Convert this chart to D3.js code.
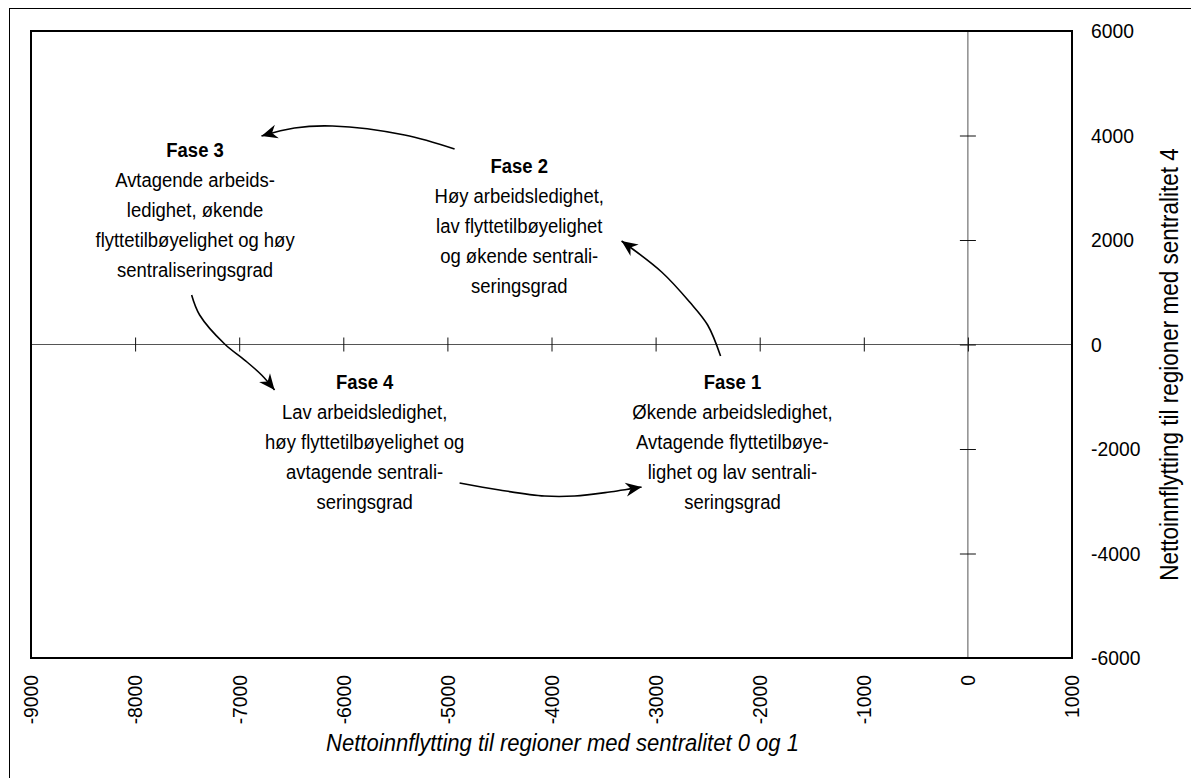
<!DOCTYPE html>
<html>
<head>
<meta charset="utf-8">
<script src="https://cdn.jsdelivr.net/npm/d3@7/dist/d3.min.js"></script>
<style>
  html, body { margin: 0; padding: 0; background: #fff; }
  svg { display: block; }
  text { font-family: "Liberation Sans", Arial, sans-serif; fill: #000; }
</style>
</head>
<body>
<svg id="chart" width="1191" height="778"></svg>
<script>
// ---- Data ----
const xTicks = [-9000, -8000, -7000, -6000, -5000, -4000, -3000, -2000, -1000, 0, 1000];
const yTicks = [-6000, -4000, -2000, 0, 2000, 4000, 6000];
const xDomain = [-9000, 1000];
const yDomain = [-6000, 6000];
const xTitle = "Nettoinnflytting til regioner med sentralitet 0 og 1";
const yTitle = "Nettoinnflytting til regioner med sentralitet 4";

// phase labels: centre x, title baseline y (data units)
const phaseNames = ["Fase 1", "Fase 2", "Fase 3", "Fase 4"];
const phaseX = [-2262, -4310, -7424, -5795];
const phaseY = [-852, 3288, 3589, -852];
const phaseLines = [
  ["Økende arbeidsledighet,", "Avtagende flyttetilbøye-", "lighet og lav sentrali-", "seringsgrad"],
  ["Høy arbeidsledighet,", "lav flyttetilbøyelighet", "og økende sentrali-", "seringsgrad"],
  ["Avtagende arbeids-", "ledighet, økende", "flyttetilbøyelighet og høy", "sentraliseringsgrad"],
  ["Lav arbeidsledighet,", "høy flyttetilbøyelighet og", "avtagende sentrali-", "seringsgrad"]
];

// arrows (data units)
const arrow1X = [-2376, -2500, -2673, -2942, -3327];
const arrow1Y = [-220, 373, 813, 1388, 1981];
const arrow2X = [-4931, -5411, -6104, -6469, -6786];
const arrow2Y = [3742, 4010, 4182, 4144, 3990];
const arrow3X = [-7457, -7380, -7140, -6948, -6785, -6660];
const arrow3Y = [947, 565, 10, -297, -584, -871];
const arrow4X = [-4883, -4499, -4066, -3778, -3442, -3134];
const arrow4Y = [-2651, -2785, -2900, -2900, -2823, -2727];

// ---- Layout ----
const svg = d3.select("#chart");
const L = 31, R = 1072, T = 31, B = 658;
const x = d3.scaleLinear().domain(xDomain).range([L, R]);
const y = d3.scaleLinear().domain(yDomain).range([B, T]);
const SQ = 0.88; // horizontal squeeze of the condensed font

// outer frame
svg.append("rect").attr("x", 9.5).attr("y", 8.5).attr("width", 1200).attr("height", 800)
  .attr("fill", "none").attr("stroke", "#000").attr("stroke-width", 1);

// marker
const defs = svg.append("defs");
defs.append("marker").attr("id", "ah").attr("viewBox", "-17 -8 19 16")
  .attr("refX", 0).attr("refY", 0).attr("markerWidth", 19).attr("markerHeight", 16)
  .attr("markerUnits", "userSpaceOnUse").attr("orient", "auto")
  .append("path").attr("d", "M0,0 L-16,-7 L-11,0 L-16,7 Z").attr("fill", "#000");

// zero lines
svg.append("line").attr("x1", L).attr("x2", R).attr("y1", y(0)).attr("y2", y(0))
  .attr("stroke", "#555").attr("stroke-width", 1);
svg.append("line").attr("x1", x(0)).attr("x2", x(0)).attr("y1", T).attr("y2", B)
  .attr("stroke", "#555").attr("stroke-width", 1);

// tick marks crossing the zero lines
const xAxis = d3.axisBottom(x).tickValues(xTicks.filter(d => d > xDomain[0] && d < xDomain[1]))
  .tickSize(14).tickFormat("");
const gx = svg.append("g").attr("transform", `translate(0,${y(0) - 7})`).call(xAxis);
gx.select(".domain").remove();
gx.selectAll(".tick line").attr("stroke", "#111");

const yAxis = d3.axisRight(y).tickValues(yTicks.filter(d => d > yDomain[0] && d < yDomain[1]))
  .tickSize(16).tickFormat("");
const gy = svg.append("g").attr("transform", `translate(${x(0) - 8},0)`).call(yAxis);
gy.select(".domain").remove();
gy.selectAll(".tick line").attr("stroke", "#111");

// plot frame
svg.append("rect").attr("x", L).attr("y", T).attr("width", R - L).attr("height", B - T)
  .attr("fill", "none").attr("stroke", "#000").attr("stroke-width", 2);

// x tick labels (rotated)
svg.append("g").selectAll("text").data(xTicks).join("text")
  .attr("transform", d => `translate(${x(d)},675) rotate(-90) scale(0.92,1)`)
  .attr("text-anchor", "end").attr("dy", "0.35em")
  .style("font-size", "21px").text(d => d);

// y tick labels
svg.append("g").selectAll("text").data(yTicks).join("text")
  .attr("transform", d => `translate(1091,${y(d)}) scale(0.92,1)`)
  .attr("text-anchor", "start").attr("dy", "0.35em")
  .style("font-size", "21px").text(d => d);

// axis titles
svg.append("text").attr("transform", `translate(${(L + R) / 2 + 11},751) scale(0.9,1)`)
  .attr("text-anchor", "middle").style("font-size", "24.5px").style("font-style", "italic")
  .text(xTitle);
svg.append("text").attr("transform", `translate(1178,${(T + B) / 2 + 20}) rotate(-90) scale(0.9,1)`)
  .attr("text-anchor", "middle").style("font-size", "25px")
  .text(yTitle);

// arrows
const line = d3.line().x(d => x(d[0])).y(d => y(d[1])).curve(d3.curveCatmullRom.alpha(0.5));
[[arrow1X, arrow1Y], [arrow2X, arrow2Y], [arrow3X, arrow3Y], [arrow4X, arrow4Y]].forEach(([ax, ay]) => {
  const pts = ax.map((v, i) => [v, ay[i]]);
  svg.append("path").attr("d", line(pts)).attr("fill", "none")
    .attr("stroke", "#000").attr("stroke-width", 1.6).attr("marker-end", "url(#ah)");
});

// phase labels
phaseNames.forEach((name, i) => {
  const cx = x(phaseX[i]), by = y(phaseY[i]);
  const g = svg.append("g");
  g.append("text").attr("transform", `translate(${cx},${by}) scale(${SQ},1)`)
    .attr("text-anchor", "middle").style("font-size", "21px").style("font-weight", "bold")
    .text(name);
  phaseLines[i].forEach((t, j) => {
    g.append("text").attr("transform", `translate(${cx},${by + 30 * (j + 1)}) scale(${SQ},1)`)
      .attr("text-anchor", "middle").style("font-size", "21px").text(t);
  });
});
</script>
</body>
</html>
